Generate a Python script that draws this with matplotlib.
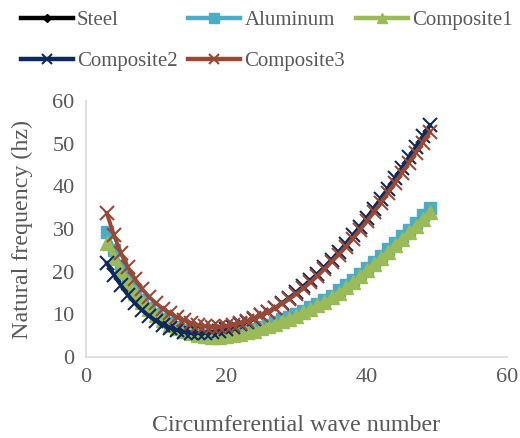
import matplotlib
matplotlib.use("Agg")
import matplotlib.pyplot as plt

# circumferential wave number n = 3 ... 49
wave_number = list(range(3, 50))

steel = [29.0, 24.8, 21.1, 18.0, 15.4, 13.2, 11.4, 9.9, 8.7, 7.7,
         6.9, 6.2, 5.7, 5.3, 5.0, 4.8, 4.8, 5.0, 5.3, 5.6,
         6.0, 6.4, 6.9, 7.4, 8.0, 8.6, 9.2, 9.9, 10.7, 11.5,
         12.3, 13.2, 14.2, 15.3, 16.5, 17.8, 19.2, 20.6, 22.0, 23.5,
         25.0, 26.5, 28.0, 29.6, 31.2, 32.9, 34.6]
aluminum = [29.3, 25.0, 21.3, 18.2, 15.6, 13.4, 11.6, 10.1, 8.9, 7.9,
            7.1, 6.4, 5.9, 5.4, 5.1, 4.9, 5.0, 5.2, 5.5, 5.8,
            6.2, 6.6, 7.1, 7.6, 8.2, 8.8, 9.4, 10.1, 10.9, 11.7,
            12.5, 13.4, 14.4, 15.6, 16.8, 18.1, 19.5, 20.9, 22.3, 23.8,
            25.3, 26.8, 28.3, 29.9, 31.5, 33.2, 35.0]
composite1 = [26.7, 23.2, 20.0, 17.3, 14.9, 12.9, 11.2, 9.8, 8.6, 7.6,
              6.8, 6.1, 5.6, 5.2, 4.9, 4.7, 4.7, 4.9, 5.1, 5.4,
              5.8, 6.2, 6.7, 7.2, 7.8, 8.4, 9.0, 9.7, 10.5, 11.3,
              12.1, 13.0, 14.0, 15.1, 16.3, 17.6, 18.9, 20.3, 21.7, 23.2,
              24.7, 26.2, 27.7, 29.2, 30.8, 32.4, 34.0]
composite2 = [22.0, 19.3, 16.8, 14.5, 12.6, 11.0, 9.6, 8.5, 7.6, 6.9,
              6.3, 5.9, 5.7, 5.6, 5.7, 5.9, 6.2, 6.6, 7.1, 7.7,
              8.3, 9.0, 9.8, 10.6, 11.5, 12.7, 13.9, 15.2, 16.6, 18.0,
              19.5, 21.1, 22.8, 24.6, 26.5, 28.5, 30.5, 32.6, 34.8, 37.1,
              39.5, 41.9, 44.3, 46.8, 49.3, 51.8, 54.3]
composite3 = [33.7, 28.6, 24.4, 21.0, 18.3, 16.0, 14.1, 12.6, 11.3, 10.2,
              9.3, 8.6, 8.0, 7.5, 7.2, 7.0, 7.1, 7.3, 7.6, 8.0,
              8.5, 9.1, 9.8, 10.6, 11.5, 12.5, 13.6, 14.8, 16.1, 17.5,
              19.0, 20.6, 22.3, 24.0, 25.8, 27.7, 29.7, 31.8, 33.9, 36.1,
              38.4, 40.7, 43.1, 45.5, 47.9, 50.3, 52.7]

x_ticks = [0, 20, 40, 60]
y_ticks = [0, 10, 20, 30, 40, 50, 60]

# (label, values, color, marker, markersize)
SERIES = [
    ("Steel", steel, "#000000", "D", 4),
    ("Aluminum", aluminum, "#4BACC6", "s", 8.5),
    ("Composite1", composite1, "#9BBB59", "^", 9.5),
    ("Composite2", composite2, "#0E2A5C", "x", 10),
    ("Composite3", composite3, "#9A4836", "x", 10),
]

plt.rcParams["font.family"] = ["Liberation Serif", "DejaVu Serif"]
GRAY = "#595959"

fig = plt.figure(figsize=(5.2, 4.38), dpi=100)
ax = fig.add_axes([0.165, 0.185, 0.81, 0.584])

handles = {}
for label, vals, color, marker, ms in SERIES:
    line, = ax.plot(wave_number, vals, color=color, linewidth=2.8, marker=marker,
                    markersize=ms, markeredgewidth=1.5 if marker == "x" else 1.0,
                    label=label)
    handles[label] = line

ax.set_xlim(0, 60)
ax.set_ylim(0, 60)
ax.set_xticks(x_ticks)
ax.set_yticks(y_ticks)
ax.tick_params(length=0, labelsize=16, labelcolor=GRAY, pad=8)
for side in ("top", "right"):
    ax.spines[side].set_visible(False)
for side in ("left", "bottom"):
    ax.spines[side].set_color("#D9D9D9")
    ax.spines[side].set_linewidth(1.2)

ax.set_xlabel("Circumferential wave number", fontsize=17.3, color=GRAY, labelpad=20)
ax.set_ylabel("Natural frequency (hz)", fontsize=17.3, color=GRAY, labelpad=14)

# legend is filled column-wise, so order entries to read row-wise like Excel
order = ["Steel", "Composite2", "Aluminum", "Composite3", "Composite1"]
leg = fig.legend([handles[k] for k in order], order, loc="upper left",
                 bbox_to_anchor=(0.02, 1.0), ncol=3, frameon=False,
                 fontsize=15, handlelength=2.5, handletextpad=0.2,
                 columnspacing=0.5, labelspacing=1.05, borderaxespad=0.1)
for t in leg.get_texts():
    t.set_color(GRAY)
# smaller markers in the legend keys
for h in leg.legend_handles:
    h.set_markersize(6.5 if h.get_marker() != "D" else 4.5)
    h.set_linewidth(3.2)

fig.savefig("out.png", dpi=100)
